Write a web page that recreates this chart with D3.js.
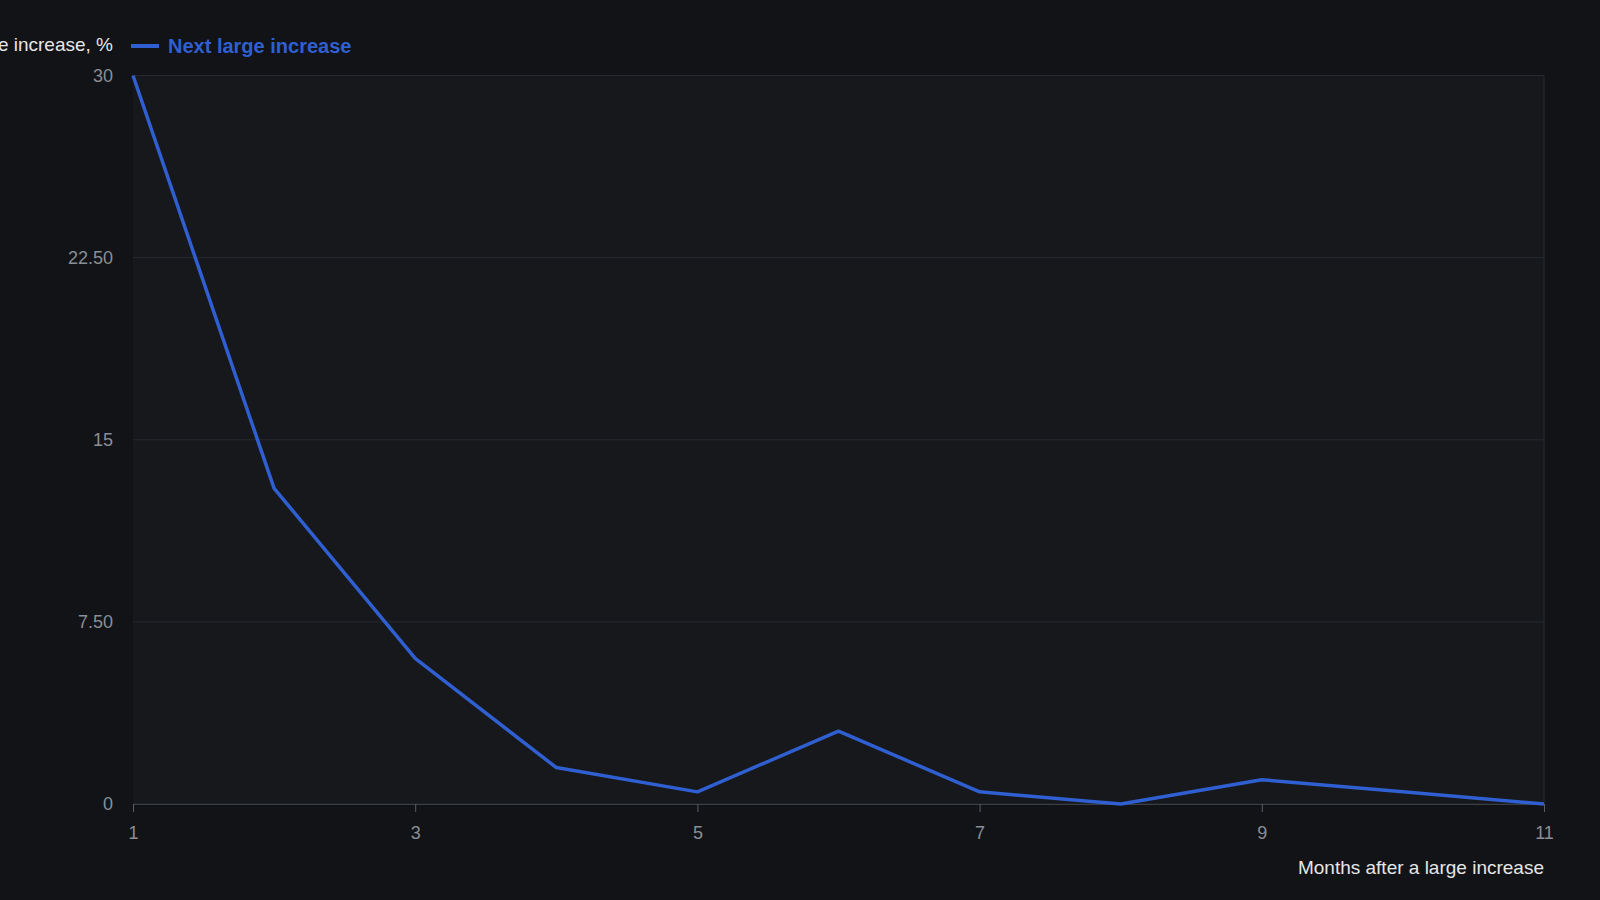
<!DOCTYPE html>
<html><head><meta charset="utf-8">
<script src="https://cdn.jsdelivr.net/npm/d3@7"></script>
<style>body{margin:0;background:#111317;}svg{display:block;font-family:"Liberation Sans",Arial,sans-serif;}</style>
</head><body><svg id="c" width="1600" height="900"></svg>
<script>
const months = [1,2,3,4,5,6,7,8,9,10,11];
const nextIncrease = [30,13,6,1.5,0.5,3,0.5,0,1,0.5,0];
const yTicks = [0,7.5,15,22.5,30];
const yTickLabels = ["0","7.50","15","22.50","30"];
const xTicks = [1,3,5,7,9,11];
const seriesName = "Next large increase";
const yTitle = "Probability of a large increase, %";
const xTitle = "Months after a large increase";

const svg = d3.select("#c");
const L=133,R=1544,T=75.5,B=804;
const x = d3.scaleLinear().domain([1,11]).range([L,R]);
const y = d3.scaleLinear().domain([0,30]).range([B,T]);
svg.append("rect").attr("width",1600).attr("height",900).attr("fill","#111317");
svg.append("rect").attr("x",L).attr("y",T).attr("width",R-L).attr("height",B-T).attr("fill","#16181c");
svg.append("g").selectAll("line").data(yTicks).join("line")
  .attr("x1",L).attr("x2",R).attr("y1",d=>y(d)).attr("y2",d=>y(d)).attr("stroke","#262a30");
svg.append("line").attr("x1",R).attr("x2",R).attr("y1",T).attr("y2",B).attr("stroke","#262a30");
const ya = svg.append("g").attr("transform",`translate(${L},0)`)
  .call(d3.axisLeft(y).tickValues(yTicks).tickFormat((d,i)=>yTickLabels[i]).tickSize(0).tickPadding(20));
ya.select(".domain").remove();
ya.selectAll("text").attr("fill","#8a8e95").attr("font-size",18);
const xa = svg.append("g").attr("transform",`translate(0,${B})`)
  .call(d3.axisBottom(x).tickValues(xTicks).tickSize(8).tickPadding(14));
xa.select(".domain").attr("stroke","#3a3e45");
xa.selectAll("line").attr("stroke","#5a5e65");
xa.selectAll("text").attr("fill","#8a8e95").attr("font-size",18);
svg.append("path").datum(nextIncrease)
  .attr("d",d3.line().x((d,i)=>x(months[i])).y(d=>y(d)))
  .attr("fill","none").attr("stroke","#2f5fd0").attr("stroke-width",3.5).attr("stroke-linejoin","round");
svg.append("text").attr("x",113).attr("y",51).attr("text-anchor","end").attr("fill","#e6e6e6").attr("font-size",19).text(yTitle);
svg.append("line").attr("x1",131).attr("x2",159).attr("y1",46).attr("y2",46).attr("stroke","#2f5fd0").attr("stroke-width",4);
svg.append("text").attr("x",168).attr("y",53).attr("fill","#2f5fd0").attr("font-weight","bold").attr("font-size",20).text(seriesName);
svg.append("text").attr("x",R).attr("y",874).attr("text-anchor","end").attr("fill","#e6e6e6").attr("font-size",19).text(xTitle);
</script></body></html>
